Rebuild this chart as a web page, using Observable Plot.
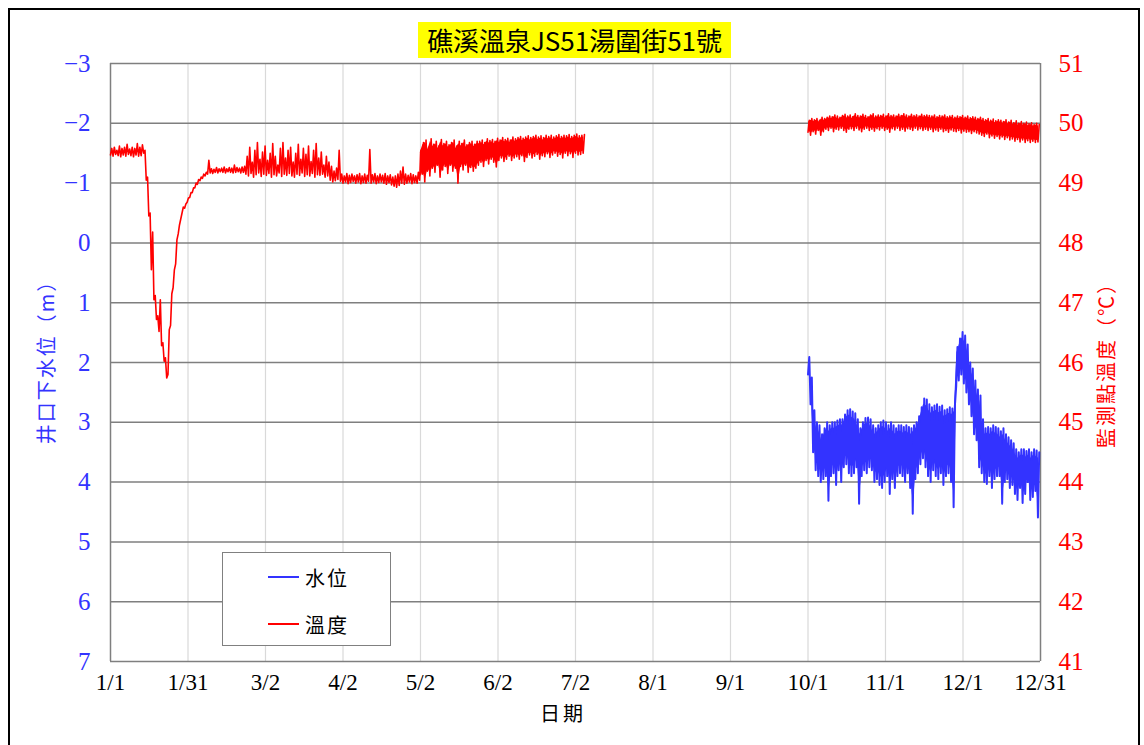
<!DOCTYPE html>
<html><head><meta charset="utf-8">
<script src="https://cdn.jsdelivr.net/npm/d3@7"></script>
<script src="https://cdn.jsdelivr.net/npm/@observablehq/plot@0.6"></script>
<style>
body{margin:0;background:#fff;}
#wrap{position:relative;width:1144px;height:745px;overflow:hidden;background:#fff;}
#border{position:absolute;left:8px;top:8px;width:1132px;height:770px;border:2px solid #000;box-sizing:border-box;pointer-events:none;}
#title{position:absolute;left:418px;top:22px;width:313px;height:36px;background:#ffff00;font:26px "Noto Sans CJK TC";color:#000;text-align:center;line-height:36px;white-space:nowrap;}
.ylab{position:absolute;font:20px "Noto Sans CJK TC";white-space:nowrap;transform:translate(-50%,-50%) rotate(-90deg);letter-spacing:2px;}
#xlab{position:absolute;left:563px;top:712px;transform:translate(-50%,-50%);font:20px "Noto Sans CJK TC";color:#000;letter-spacing:3px;}
#legend{position:absolute;left:222px;top:552px;width:169px;height:94px;border:1px solid #808080;background:#fff;box-sizing:border-box;}
.lrow{position:absolute;left:45px;height:24px;display:flex;align-items:center;font:20px "Noto Sans CJK TC";color:#000;letter-spacing:2px;}
.lrow span.sw{display:inline-block;width:31px;height:2px;margin-right:6px;}
svg{position:absolute;left:0;top:0;}
</style></head>
<body>
<div id="wrap"></div>
<script>
// ---- tick labels ----
const xTickLabels = ["1/1","1/31","3/2","4/2","5/2","6/2","7/2","8/1","9/1","10/1","11/1","12/1","12/31"];
const yLeftTicks = [-3,-2,-1,0,1,2,3,4,5,6,7];

// ---- temperature (°C), segment 1: day 0..185, daily low / high ----
const temp1Start = 0;
const temp1Low = [
 49.47,49.45,49.48,49.46,49.44,49.47,49.45,49.48,49.46,49.44,49.47,49.45,49.46,
 49.5,49.05,48.45,47.55,47.05,46.72,46.52,46.28,46.02,45.74,46.55,47.15,47.55,48.05,48.3,48.5,48.58,48.68,48.76,48.84,48.92,48.98,49.04,49.08,49.12,
 49.15,49.17,49.16,49.18,49.17,49.19,49.18,49.17,49.19,49.18,49.17,49.18,49.19,49.17,49.18,
 49.15,49.12,49.16,49.1,49.14,49.17,49.11,49.15,49.13,49.16,49.1,49.14,49.12,49.17,49.11,49.15,49.13,49.16,49.12,49.1,49.15,49.13,49.17,49.11,49.14,49.12,49.16,49.1,49.14,49.13,49.15,49.1,49.12,49.05,49.02,49.04,49.06,
 49.03,49.0,49.02,48.99,49.01,49.03,49.0,49.02,48.99,49.01,49.0,49.03,49.0,49.02,48.99,49.01,49.02,49.0,48.98,49.01,48.97,48.95,48.93,48.96,49.0,48.98,49.0,49.02,48.99,49.01,49.0,
 49.05,49.15,49.02,49.2,49.12,49.25,49.18,49.3,49.1,49.22,49.28,49.16,49.3,49.2,49.25,49.0,49.28,49.22,49.3,49.18,49.26,49.2,49.25,
 49.3,49.35,49.28,49.38,49.32,49.4,49.35,49.27,49.38,49.42,49.36,49.4,49.45,49.38,49.42,49.44,49.4,49.46,49.36,49.43,49.47,49.42,49.45,49.48,49.4,49.46,49.44,49.49,49.43,49.47,49.5,49.45,49.48,49.42,49.5,49.46,49.49,49.43,49.5,49.47,49.48,49.5
];
const temp1High = [
 49.58,49.6,49.55,49.62,49.58,49.6,49.65,49.57,49.6,49.58,49.66,49.6,49.64,
 49.55,49.1,48.5,48.18,47.12,46.78,47.05,46.33,46.08,45.8,46.62,47.25,47.65,48.15,48.4,48.6,48.65,48.75,48.84,48.92,49.0,49.06,49.1,49.15,49.18,
 49.38,49.24,49.23,49.26,49.24,49.25,49.27,49.24,49.26,49.25,49.3,49.26,49.25,49.27,49.28,
 49.45,49.6,49.35,49.55,49.68,49.4,49.52,49.62,49.38,49.5,49.66,49.45,49.3,49.58,49.68,49.42,49.55,49.6,49.35,49.5,49.65,49.4,49.58,49.48,49.62,49.36,49.55,49.66,49.42,49.52,49.3,49.45,49.35,49.28,49.2,49.25,49.55,
 49.15,49.12,49.16,49.13,49.15,49.12,49.14,49.16,49.12,49.15,49.13,49.56,49.14,49.16,49.12,49.15,49.13,49.16,49.12,49.14,49.1,49.12,49.15,49.2,49.27,49.15,49.13,49.16,49.14,49.12,49.18,
 49.55,49.68,49.72,49.6,49.74,49.65,49.7,49.62,49.73,49.66,49.7,49.64,49.68,49.72,49.62,49.7,49.66,49.72,49.64,49.68,49.7,49.65,49.7,
 49.7,49.72,49.68,49.74,49.71,49.73,49.7,49.75,49.72,49.76,49.73,49.75,49.72,49.77,49.74,49.76,49.78,49.75,49.77,49.79,49.76,49.78,49.8,49.77,49.79,49.76,49.8,49.78,49.8,49.77,49.79,49.81,49.78,49.8,49.79,49.81,49.78,49.8,49.82,49.79,49.8,49.81
];
const temp1DenseFrom = 121; // day where the reading band becomes dense

// ---- temperature (°C), segment 2: day 273..363 ----
const temp2Start = 273;
const temp2Low = [
 49.85,49.8,49.86,49.82,49.88,49.8,49.86,
 49.9,49.88,49.92,49.86,49.9,49.89,49.92,49.88,49.85,49.9,49.91,49.88,49.92,49.89,49.86,49.9,49.92,49.88,49.9,49.87,49.91,49.89,49.92,49.88,49.9,49.85,49.91,49.89,49.92,49.88,49.9,49.87,49.91,49.9,49.88,49.92,49.89,49.91,49.88,49.9,
 49.88,49.9,49.86,49.89,49.87,49.9,49.86,49.88,49.85,49.89,49.87,49.86,49.88,49.84,49.87,49.85,49.86,49.83,49.86,49.84,49.82,
 49.8,49.78,49.82,49.76,49.79,49.75,49.78,49.74,49.77,49.73,49.76,49.72,49.74,49.7,49.73,49.69,49.72,49.68,49.71,49.68,49.7,49.68,49.69
];
const temp2High = [
 50.05,50.08,50.06,50.08,50.05,50.1,50.08,
 50.1,50.12,50.11,50.14,50.12,50.1,50.13,50.15,50.12,50.14,50.11,50.16,50.13,50.12,50.15,50.13,50.11,50.14,50.16,50.12,50.14,50.13,50.15,50.12,50.16,50.13,50.14,50.12,50.15,50.13,50.16,50.14,50.12,50.15,50.13,50.14,50.12,50.15,50.13,50.14,
 50.13,50.12,50.14,50.11,50.13,50.12,50.14,50.11,50.12,50.13,50.1,50.12,50.11,50.13,50.1,50.12,50.09,50.11,50.1,50.08,50.1,
 50.08,50.06,50.08,50.05,50.07,50.04,50.06,50.05,50.03,50.06,50.02,50.05,50.01,50.04,50.0,50.03,50.0,50.02,49.99,50.01,49.98,50.0,49.98
];

// ---- water level below wellhead (m): day 273..363 ----
const waterStart = 273;
const waterTop = [
 1.91,2.25,2.8,3.0,3.05,3.2,3.1,3.0,3.05,3.0,
 3.0,2.97,2.95,2.95,2.87,2.8,2.78,2.82,2.85,2.95,
 3.1,3.0,2.93,2.92,2.95,3.05,3.1,3.05,3.0,2.97,
 3.0,3.05,3.0,3.05,3.1,3.05,3.05,3.08,3.05,3.08,
 3.1,3.05,3.0,2.9,2.75,2.6,2.62,2.7,2.75,2.72,
 2.7,2.74,2.72,2.8,2.78,2.75,2.77,2.72,1.74,1.6,
 1.49,1.55,1.7,2.0,2.1,2.3,2.45,2.55,2.95,3.1,
 3.08,3.1,3.05,3.08,3.1,3.15,3.1,3.2,3.25,3.3,
 3.35,3.45,3.5,3.45,3.45,3.48,3.45,3.5,3.45,3.47,3.5
];
const waterBottom = [
 2.2,2.7,3.5,3.8,3.9,4.0,3.95,3.9,4.31,3.9,
 3.85,4.05,3.8,4.0,3.75,3.7,3.85,3.9,3.85,3.75,
 4.36,3.9,3.8,3.85,3.75,3.8,4.0,3.95,4.05,4.1,
 4.0,3.9,4.2,3.95,4.1,3.9,3.85,3.9,4.0,3.85,
 4.1,4.53,3.95,3.85,3.7,3.6,3.75,3.9,4.0,3.8,
 3.9,3.95,3.85,4.05,3.9,3.85,4.0,4.42,2.4,2.3,
 2.2,2.35,2.5,2.7,2.9,3.2,3.3,3.75,3.85,4.0,
 4.03,3.9,4.1,3.95,3.9,3.9,4.36,4.0,3.95,4.1,
 4.05,4.2,4.3,4.1,4.35,4.2,4.0,4.3,4.25,4.15,4.59
];

// build recorded sequences (each day: one reading then the other)
function series(start, a, b) {
  const out = [];
  a.forEach((v, i) => {
    out.push({day: start + i, v});
    out.push({day: start + i + 0.5, v: b[i]});
  });
  return out;
}
function daily(start, lo, hi) {
  return lo.map((v, i) => ({day: start + i + 0.25, lo: v, hi: hi[i]}));
}
const temp1 = series(temp1Start, temp1Low, temp1High);
const temp2 = series(temp2Start, temp2Low, temp2High);
const water = series(waterStart, waterBottom, waterTop);
const temp1Band = daily(temp1Start, temp1Low, temp1High).filter(d => d.day >= temp1DenseFrom);
const temp2Band = daily(temp2Start, temp2Low, temp2High);
const waterBand = daily(waterStart, waterBottom, waterTop);

const tickDays = xTickLabels.map((_, i) => i * 364 / 12);
const BLUE = "#3333ff", RED = "#ff0000";
// right axis: temperature T shown on shared scale as 48 - T (51 at top, 41 at bottom)
const tToY = t => 48 - t;

const chart = Plot.plot({
  width: 1144, height: 745,
  marginLeft: 110, marginRight: 104, marginTop: 63, marginBottom: 84,
  x: {domain: [0, 364]},
  y: {domain: [-3, 7], reverse: true},
  style: {fontFamily: "'Liberation Serif', serif", background: "transparent"},
  marks: [
    Plot.ruleX(tickDays.slice(1, -1), {stroke: "#d9d9d9", strokeWidth: 1.2}),
    Plot.ruleY(yLeftTicks, {stroke: "#7f7f7f", strokeWidth: 1.5}),
    Plot.ruleX([0, 364], {stroke: "#7f7f7f", strokeWidth: 1.5}),
    Plot.areaY(temp1Band, {x: "day", y1: d => tToY(d.lo + 0.04), y2: d => tToY(d.hi - 0.04), fill: RED}),
    Plot.areaY(temp2Band, {x: "day", y1: d => tToY(d.lo + 0.03), y2: d => tToY(d.hi - 0.03), fill: RED}),
    Plot.areaY(waterBand, {x: "day", y1: d => d.lo - 0.15, y2: d => d.hi + 0.1, fill: BLUE}),
    Plot.line(temp1, {x: "day", y: d => tToY(d.v), stroke: RED, strokeWidth: 1.6}),
    Plot.line(temp2, {x: "day", y: d => tToY(d.v), stroke: RED, strokeWidth: 1.6}),
    Plot.line(water, {x: "day", y: "v", stroke: BLUE, strokeWidth: 2}),
    Plot.axisY(yLeftTicks, {anchor: "left", tickSize: 0, tickPadding: 20, fontSize: 25, fill: BLUE, label: null, tickFormat: d3.format("d")}),
    Plot.axisY(yLeftTicks, {anchor: "right", tickSize: 0, tickPadding: 18, fontSize: 25, fill: RED, label: null, tickFormat: d => String(48 - d)}),
    Plot.axisX(tickDays, {anchor: "bottom", tickSize: 0, tickPadding: 12, fontSize: 23, fill: "#000", label: null, tickFormat: (d, i) => xTickLabels[i]})
  ]
});

const wrap = document.getElementById("wrap");
wrap.appendChild(chart);
wrap.insertAdjacentHTML("beforeend", `
  <div id="title">礁溪溫泉JS51湯圍街51號</div>
  <div class="ylab" style="left:45px;top:357px;color:${BLUE}">井口下水位（m）</div>
  <div class="ylab" style="left:1105px;top:360px;color:${RED}">監測點溫度（℃）</div>
  <div id="xlab">日期</div>
  <div id="legend">
    <div class="lrow" style="top:12px"><span class="sw" style="background:${BLUE}"></span>水位</div>
    <div class="lrow" style="top:59px"><span class="sw" style="background:${RED}"></span>溫度</div>
  </div>
  <div id="border"></div>
`);
</script>
</body></html>
